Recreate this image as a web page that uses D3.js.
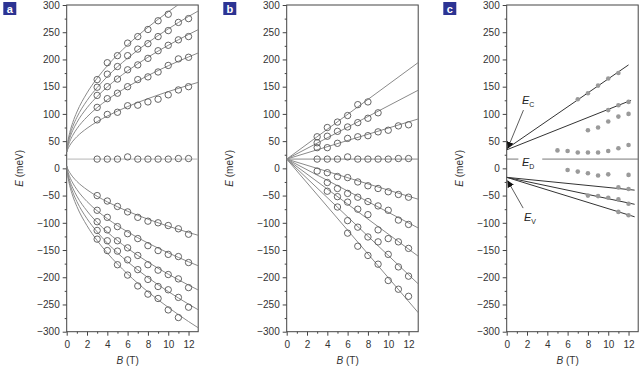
<!DOCTYPE html>
<html>
<head>
<meta charset="utf-8">
<script src="https://d3js.org/d3.v7.min.js"></script>
<style>
  body { margin: 0; background: #fff; }
  svg { display: block; font-family: "Liberation Sans", Arial, sans-serif; }
</style>
</head>
<body>
<div id="chart"></div>
<script>
// field values where points were measured (T)
const fieldB = [3, 4, 5, 6, 7, 8, 9, 10, 11, 12];

// panel a: fitted curves read at these fields
const fitB = [0, 0.1, 0.3, 0.6, 1, 2, 3, 4, 6, 8, 10, 12, 13];
const aFitUp1 = [30, 34.9, 42, 49.9, 58.1, 73.6, 85.8, 96.1, 113.4, 128, 141, 152.7, 158.2];
const aFitUp2 = [30, 38.5, 49.3, 60.8, 72.6, 94.5, 111.5, 125.9, 150, 170.4, 188.4, 204.6, 212.3];
const aFitUp3 = [30, 41.6, 55.4, 69.7, 84.2, 111.2, 132, 149.5, 179.1, 204, 226, 245.8, 255.2];
const aFitUp4 = [30, 44.2, 60.3, 76.9, 93.6, 124.6, 148.4, 168.6, 202.4, 230.9, 256.1, 278.9, 289.5];
const aFitUp5 = [30, 47, 65.6, 84.4, 103.4, 138.5, 165.6, 188.4, 226.7, 259, 287.5, 313.3, 325.3];
const aFitLow1 = [4, -0.9, -7.9, -15.7, -23.9, -39.3, -51.3, -61.5, -78.8, -93.3, -106.2, -117.8, -123.2];
const aFitLow2 = [4, -4.5, -15.5, -27, -38.8, -60.9, -78, -92.4, -116.7, -137.2, -155.2, -171.6, -179.3];
const aFitLow3 = [4, -7.8, -21.8, -36.3, -51, -78.2, -99.3, -117, -146.9, -172.1, -194.3, -214.4, -223.9];
const aFitLow4 = [4, -10.5, -27, -43.9, -60.9, -92.4, -116.7, -137.2, -171.6, -200.6, -226.2, -249.4, -260.3];
const aFitLow5 = [4, -13.1, -31.9, -50.9, -70, -105.3, -132.6, -155.5, -194.1, -226.7, -255.3, -281.3, -293.4];
const diracE = 17;

// panel a: measured levels (meV)
const aUp1 = [89, 99, 103, 115, 116, 122, 127, 135, 144, 150];
const aUp2 = [112, 128, 138, 150, 163, 168, 177, 189, 201, 204];
const aUp3 = [134, 150, 164, 181, 190, 202, 216, 226, 236, 242];
const aUp4 = [149, 173, 187, 207, 219, 229, 242, 253, 268, 275];
const aUp5 = [163, 194, 207, 230, 242, 255, 271, 283, null, null];
const aMid = [17, 17, 17, 21, 17, 17, 17, 17, 18, 18];
const aLow1 = [-50, -60, -70, -80, -90, -97, -100, -105, -111, -121];
const aLow2 = [-77, -90, -107, -120, -129, -142, -151, -158, -162, -173];
const aLow3 = [-98, -113, -133, -146, -160, -177, -187, -195, -203, -219];
const aLow4 = [-114, -133, -152, -168, -186, -204, -217, -223, -237, -255];
const aLow5 = [-130, -151, -177, -196, -216, -231, -239, -260, -274, null];

// panel b: straight fits from (0, 17) to these energies at 13 T
const bLineEnd = [91, 144, 195, 17, -57, -110, -162, -213, -266];
const bUp1 = [38, 38, 46, 55, 58, 60, 67, 70, 78, 80];
const bUp2 = [47, 59, 68, 76, 84, 92, 102, null, null, null];
const bUp3 = [58, 75, 85, 97, 117, 122, null, null, null, null];
const bMid = [17, 17, 17, 21, 17, 17, 17, 17, 18, 18];
const bLow1 = [-5, -8, -15, -17, -25, -32, -37, -43, -48, -53];
const bLow2 = [null, -26, -37, -46, -53, -61, -69, -77, -95, -103];
const bLow3 = [null, -42, -52, -62, -75, -85, -113, -129, -135, -147];
const bLow4 = [null, null, -71, -96, -108, -126, -135, -158, -181, -198];
const bLow5 = [null, null, null, -119, -143, -160, -176, -206, -222, -235];

// panel c: fitted lines and measured transitions
const cLineStartE = [36, 34, -16.5, -16.5, -16.5];
const cLineEndB = [12, 12.25, 12.6, 12.6, 12.6];
const cLineEndE = [190, 125, -40, -66, -89];
const cDotB1 = [7, 8, 9, 10, 11], cDotE1 = [127, 138, 152, 165, 175];
const cDotB2 = [10, 11, 12], cDotE2 = [107, 116, 122];
const cDotB3 = [8, 9, 10, 11, 12], cDotE3 = [70, 75, 86, 95, 100];
const cDotB4 = [5, 6, 7, 8, 9, 10, 11, 12], cDotE4 = [33, 32, 29, 29, 29, 32, 37, 43];
const cDotB5 = [6, 7, 8, 9, 10, 12], cDotE5 = [-3, -6, -9, -13, -11, -12];
const cDotB6 = [11, 12], cDotE6 = [-35, -38];
const cDotB7 = [8, 9, 10, 11, 12], cDotE7 = [-50, -51, -54, -57, -65];
const cDotB8 = [11, 12], cDotE8 = [-80, -86];
const cDiracGapB = [1.15, 3.5];

const yTicks = d3.range(-300, 301, 50);
const yMinor = d3.range(-275, 300, 50);
const xTicks = [0, 2, 4, 6, 8, 10, 12];
const xMinor = [1, 3, 5, 7, 9, 11];

const width = 641, height = 372;
const plotW = 132, plotH = 326.7, plotTop = 5;

const svg = d3.select("#chart").append("svg")
  .attr("width", width)
  .attr("height", height);

function makePanel(i, letter, yLabelOffset) {
  const left = 66.7 + 220 * i;
  const g = svg.append("g").attr("transform", `translate(${left},${plotTop})`);
  const x = d3.scaleLinear().domain([0, 13]).range([0, plotW]);
  const y = d3.scaleLinear().domain([-300, 300]).range([plotH, 0]);

  // clip so curves stop at the frame
  svg.append("clipPath").attr("id", "clip" + i)
    .append("rect").attr("width", plotW - 0.5).attr("height", plotH);

  const yAxis = g.append("g")
    .call(d3.axisLeft(y).tickValues(yTicks).tickSize(4).tickPadding(3));
  g.append("g").call(d3.axisLeft(y).tickValues(yMinor).tickSize(2).tickFormat(""));
  const xAxis = g.append("g").attr("transform", `translate(0,${plotH})`)
    .call(d3.axisBottom(x).tickValues(xTicks).tickSize(4).tickPadding(5));
  g.append("g").attr("transform", `translate(0,${plotH})`)
    .call(d3.axisBottom(x).tickValues(xMinor).tickSize(2).tickFormat(""));

  g.selectAll(".domain").remove();
  g.selectAll(".tick line").attr("stroke", "#444");
  g.selectAll(".tick text").attr("fill", "#333").style("font-size", "10px")
    .style("font-family", "'Liberation Sans', Arial, sans-serif");

  g.append("rect")
    .attr("width", plotW - 0.5).attr("height", plotH)
    .attr("fill", "none").attr("stroke", "#444").attr("stroke-width", 1);

  // axis titles
  const yl = g.append("text")
    .attr("transform", `translate(${-yLabelOffset},${y(0)}) rotate(-90)`)
    .attr("text-anchor", "middle")
    .attr("font-size", 10).attr("fill", "#333");
  yl.append("tspan").attr("font-style", "italic").text("E");
  yl.append("tspan").text(" (meV)");

  const xl = g.append("text")
    .attr("x", x(6)).attr("y", plotH + 32)
    .attr("text-anchor", "middle")
    .attr("font-size", 10).attr("fill", "#333");
  xl.append("tspan").attr("font-style", "italic").text("B");
  xl.append("tspan").text(" (T)");

  // panel letter
  svg.append("rect")
    .attr("x", 3.3 + 220 * i).attr("y", 2).attr("width", 13).attr("height", 13)
    .attr("fill", "#2c3393");
  svg.append("text")
    .attr("x", 9.8 + 220 * i).attr("y", 12.5)
    .attr("text-anchor", "middle")
    .attr("font-size", 11).attr("font-weight", "bold").attr("fill", "#fff")
    .text(letter);

  const plot = g.append("g").attr("clip-path", `url(#clip${i})`);
  return { g, plot, x, y };
}

function openCircles(p, series) {
  series.forEach(vals => {
    p.plot.append("g").selectAll("circle")
      .data(fieldB.map((b, k) => [b, vals[k]]).filter(d => d[1] !== null))
      .join("circle")
      .attr("cx", d => p.x(d[0]))
      .attr("cy", d => p.y(d[1]))
      .attr("r", 3.2)
      .attr("fill", "none")
      .attr("stroke", "#555")
      .attr("stroke-width", 0.9);
  });
}

// ---- panel a
const pa = makePanel(0, "a", 44);
const fitLine = d3.line().x(d => pa.x(d[0])).y(d => pa.y(d[1])).curve(d3.curveMonotoneX);
[aFitUp1, aFitUp2, aFitUp3, aFitUp4, aFitUp5, aFitLow1, aFitLow2, aFitLow3, aFitLow4, aFitLow5]
  .forEach(vals => {
    pa.plot.append("path")
      .datum(fitB.map((b, k) => [b, vals[k]]))
      .attr("fill", "none").attr("stroke", "#8a8a8a").attr("stroke-width", 1)
      .attr("d", fitLine);
  });
pa.plot.append("line")
  .attr("x1", pa.x(0)).attr("x2", pa.x(13))
  .attr("y1", pa.y(diracE)).attr("y2", pa.y(diracE))
  .attr("stroke", "#b5b5b5").attr("stroke-width", 1);
openCircles(pa, [aUp1, aUp2, aUp3, aUp4, aUp5, aMid, aLow1, aLow2, aLow3, aLow4, aLow5]);

// ---- panel b
const pb = makePanel(1, "b", 54);
bLineEnd.forEach(e => {
  pb.plot.append("line")
    .attr("x1", pb.x(0)).attr("y1", pb.y(diracE))
    .attr("x2", pb.x(13)).attr("y2", pb.y(e))
    .attr("stroke", "#8a8a8a").attr("stroke-width", 1);
});
openCircles(pb, [bUp1, bUp2, bUp3, bMid, bLow1, bLow2, bLow3, bLow4, bLow5]);

// ---- panel c
const pc = makePanel(2, "c", 44);
pc.plot.append("line")
  .attr("x1", pc.x(0)).attr("x2", pc.x(cDiracGapB[0]))
  .attr("y1", pc.y(diracE)).attr("y2", pc.y(diracE))
  .attr("stroke", "#777").attr("stroke-width", 1);
pc.plot.append("line")
  .attr("x1", pc.x(cDiracGapB[1])).attr("x2", pc.x(13))
  .attr("y1", pc.y(diracE)).attr("y2", pc.y(diracE))
  .attr("stroke", "#777").attr("stroke-width", 1);
cLineStartE.forEach((e0, k) => {
  pc.plot.append("line")
    .attr("x1", pc.x(0)).attr("y1", pc.y(e0))
    .attr("x2", pc.x(cLineEndB[k])).attr("y2", pc.y(cLineEndE[k]))
    .attr("stroke", "#333").attr("stroke-width", 1);
});
[[cDotB1, cDotE1], [cDotB2, cDotE2], [cDotB3, cDotE3], [cDotB4, cDotE4],
 [cDotB5, cDotE5], [cDotB6, cDotE6], [cDotB7, cDotE7], [cDotB8, cDotE8]]
  .forEach(([bs, es]) => {
    pc.plot.append("g").selectAll("circle")
      .data(bs.map((b, k) => [b, es[k]]))
      .join("circle")
      .attr("cx", d => pc.x(d[0])).attr("cy", d => pc.y(d[1]))
      .attr("r", 2.3).attr("fill", "#9a9a9a");
  });

// arrows and level labels
svg.append("defs").append("marker")
  .attr("id", "head").attr("viewBox", "0 0 10 10")
  .attr("refX", 9).attr("refY", 5)
  .attr("markerWidth", 7).attr("markerHeight", 7)
  .attr("markerUnits", "userSpaceOnUse")
  .attr("orient", "auto")
  .append("path").attr("d", "M0,0 L10,5 L0,10 z").attr("fill", "#111");

[[1.65, 107, 0.1, 37], [1.62, -73, 0.1, -23]].forEach(([b0, e0, b1, e1]) => {
  pc.g.append("line")
    .attr("x1", pc.x(b0)).attr("y1", pc.y(e0))
    .attr("x2", pc.x(b1)).attr("y2", pc.y(e1))
    .attr("stroke", "#333").attr("stroke-width", 0.8)
    .attr("marker-end", "url(#head)");
});

function levelLabel(b, e, sub) {
  const t = pc.g.append("text")
    .attr("x", pc.x(b)).attr("y", pc.y(e))
    .attr("font-size", 11).attr("fill", "#222");
  t.append("tspan").attr("font-style", "italic").text("E");
  t.append("tspan").attr("font-size", 7).attr("dy", 3).text(sub);
}
levelLabel(1.5, 118, "C");
levelLabel(1.5, 4, "D");
levelLabel(1.7, -97, "V");
</script>
</body>
</html>
